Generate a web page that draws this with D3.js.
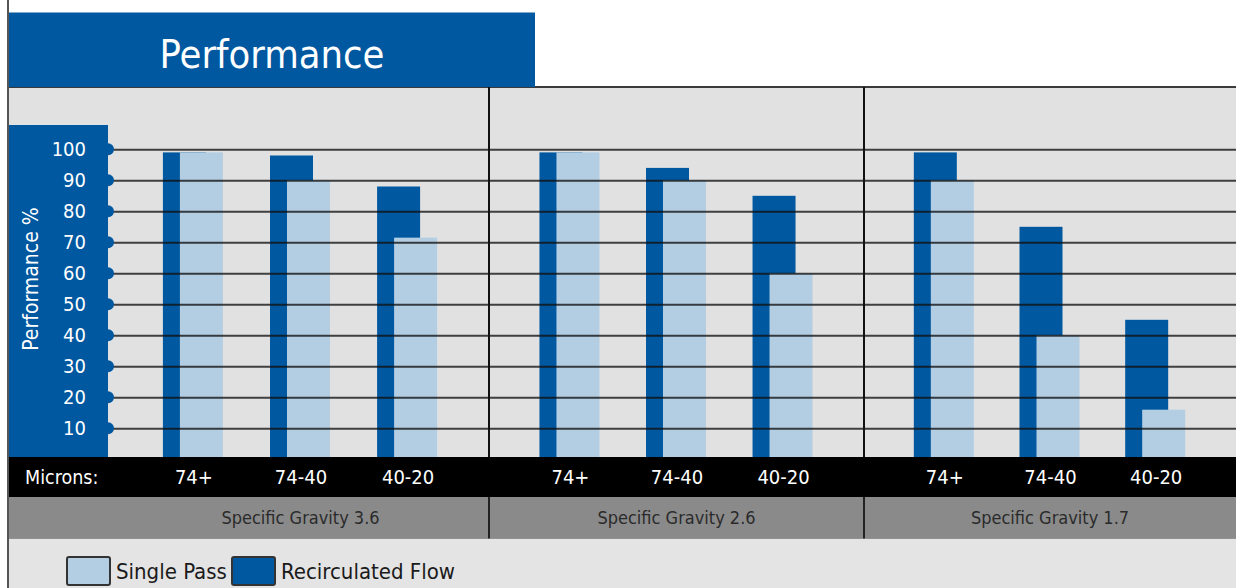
<!DOCTYPE html>
<html>
<head>
<meta charset="utf-8">
<script src="https://cdn.jsdelivr.net/npm/d3@7/dist/d3.min.js"></script>
<style>
  html, body { margin: 0; padding: 0; background: #ffffff; }
  svg { display: block; }
  text { font-family: "DejaVu Sans Condensed", "DejaVu Sans", sans-serif; }
</style>
</head>
<body>
<svg id="chart" width="1236" height="588"></svg>
<script>
// ---------------- data ----------------
const title = "Performance";
const yLabel = "Performance %";
const micronsLabel = "Microns:";
const categories = ["74+", "74-40", "40-20"];
const sections = ["Specific Gravity 3.6", "Specific Gravity 2.6", "Specific Gravity 1.7"];
const seriesNames = ["Single Pass", "Recirculated Flow"];
// one row per section, one value per category
const singlePass   = [[99, 90, 71.5], [99, 90, 60], [90, 40, 16]];
const recirculated = [[99, 98, 88],   [99, 94, 85], [99, 75, 45]];
const yTicks = [10, 20, 30, 40, 50, 60, 70, 80, 90, 100];

// ---------------- layout ----------------
const W = 1236, H = 588;
const C = { blue: "#0058a0", light: "#b3cee3", bg: "#e1e1e1", band: "#8a8a8a", grid: "#111" };
const leftX = 8, panelR = 108;
const plotTop = 87, zeroY = 459.3, bandTop = 457, band2Top = 497, legendTop = 539;
const sectionEdges = [112, 489, 864, 1236];
const barW = 43, lightOffset = 17;

const svg = d3.select("#chart");

const y = d3.scaleLinear().domain([0, 100]).range([zeroY, 149.3]);

// backgrounds
svg.append("rect").attr("x", 0).attr("y", 0).attr("width", W).attr("height", H).attr("fill", "#fff");
svg.append("rect").attr("x", leftX).attr("y", plotTop).attr("width", W - leftX).attr("height", H - plotTop).attr("fill", C.bg);

// top border line
svg.append("line").attr("x1", leftX).attr("x2", W).attr("y1", plotTop).attr("y2", plotTop)
  .attr("stroke", "#3a3a3a").attr("stroke-width", 2);

// title box
svg.append("rect").attr("x", leftX).attr("y", 12.5).attr("width", 535 - leftX).attr("height", 74.5).attr("fill", C.blue);
svg.append("text").attr("x", 272).attr("y", 67.5).attr("text-anchor", "middle")
  .attr("fill", "#fff").style("font-size", "39.5px").text(title);

// section x scales
const xScales = sections.map((s, i) =>
  d3.scalePoint().domain(categories).range([sectionEdges[i], sectionEdges[i + 1]]).padding(0.76));

// bars
sections.forEach((s, i) => {
  const x = xScales[i];
  const g = svg.append("g");
  g.selectAll("rect.rec").data(categories).join("rect")
    .attr("x", d => x(d) - 30.5).attr("width", barW)
    .attr("y", (d, j) => y(recirculated[i][j])).attr("height", (d, j) => y(0) - y(recirculated[i][j]))
    .attr("fill", C.blue);
  g.selectAll("rect.sp").data(categories).join("rect")
    .attr("x", d => x(d) - 30.5 + lightOffset).attr("width", barW)
    .attr("y", (d, j) => y(singlePass[i][j])).attr("height", (d, j) => y(0) - y(singlePass[i][j]))
    .attr("fill", C.light);
});

// gridlines (over bars)
const grid = svg.append("g").attr("transform", `translate(${panelR},0)`)
  .call(d3.axisRight(y).tickValues(yTicks).tickSize(W - panelR).tickFormat(""));
grid.select(".domain").remove();
grid.selectAll(".tick line").attr("stroke", C.grid).attr("stroke-width", 2).attr("stroke-opacity", 0.78);

// section dividers
sectionEdges.slice(1, -1).forEach(xv => {
  svg.append("line").attr("x1", xv).attr("x2", xv).attr("y1", plotTop).attr("y2", bandTop)
    .attr("stroke", "#111").attr("stroke-width", 2);
});

// y axis panel
svg.append("rect").attr("x", leftX).attr("y", 125).attr("width", panelR - leftX).attr("height", bandTop - 125).attr("fill", C.blue);
svg.append("g").selectAll("circle").data(yTicks).join("circle")
  .attr("cx", panelR).attr("cy", d => y(d)).attr("r", 6).attr("fill", C.blue);
const yAxis = svg.append("g").attr("transform", "translate(86,0)")
  .call(d3.axisLeft(y).tickValues(yTicks).tickSize(0).tickPadding(0));
yAxis.select(".domain").remove();
yAxis.selectAll("text").attr("fill", "#fff").style("font-size", "20px")
  .style("font-family", "'DejaVu Sans Condensed', sans-serif");
svg.append("text").attr("transform", `translate(37.5,279) rotate(-90)`).attr("text-anchor", "middle")
  .attr("fill", "#fff").style("font-size", "21px").text(yLabel);

// black microns band
svg.append("rect").attr("x", leftX).attr("y", bandTop).attr("width", W - leftX).attr("height", band2Top - bandTop).attr("fill", "#000");
svg.append("text").attr("x", 25).attr("y", 483.5).attr("fill", "#fff").style("font-size", "19.5px").text(micronsLabel);
sections.forEach((s, i) => {
  const ax = svg.append("g").attr("transform", `translate(0,${bandTop})`)
    .call(d3.axisBottom(xScales[i]).tickSize(0).tickPadding(12.5));
  ax.select(".domain").remove();
  ax.selectAll("text").attr("fill", "#fff").style("font-size", "20px")
    .style("font-family", "'DejaVu Sans Condensed', sans-serif");
});

// gray specific-gravity band
svg.append("rect").attr("x", leftX).attr("y", band2Top).attr("width", W - leftX).attr("height", legendTop - band2Top).attr("fill", C.band);
sectionEdges.slice(1, -1).forEach(xv => {
  svg.append("line").attr("x1", xv).attr("x2", xv).attr("y1", band2Top).attr("y2", legendTop)
    .attr("stroke", "#222").attr("stroke-width", 2);
});
svg.append("line").attr("x1", leftX).attr("x2", W).attr("y1", legendTop).attr("y2", legendTop)
  .attr("stroke", "#9a9a9a").attr("stroke-width", 1);
svg.append("g").selectAll("text").data(sections).join("text")
  .attr("x", (d, i) => (sectionEdges[i] + sectionEdges[i + 1]) / 2).attr("y", 524)
  .attr("text-anchor", "middle").attr("fill", "#2a2a2a").style("font-size", "18px").text(d => d);

// legend
svg.append("rect").attr("x", leftX).attr("y", legendTop).attr("width", W - leftX).attr("height", H - legendTop).attr("fill", "#e4e4e4");
const legendItems = [
  { name: seriesNames[0], color: C.light, sx: 67, tx: 116 },
  { name: seriesNames[1], color: C.blue, sx: 232, tx: 281 }
];
const lg = svg.append("g");
lg.selectAll("rect").data(legendItems).join("rect")
  .attr("x", d => d.sx).attr("y", 557).attr("width", 43).attr("height", 28).attr("rx", 2)
  .attr("fill", d => d.color).attr("stroke", "#333").attr("stroke-width", 2);
lg.selectAll("text").data(legendItems).join("text")
  .attr("x", d => d.tx).attr("y", 579).attr("fill", "#1a1a1a").style("font-size", "22px").text(d => d.name);

// left border line
svg.append("line").attr("x1", leftX).attr("x2", leftX).attr("y1", 0).attr("y2", H)
  .attr("stroke", "#555").attr("stroke-width", 2);
</script>
</body>
</html>
